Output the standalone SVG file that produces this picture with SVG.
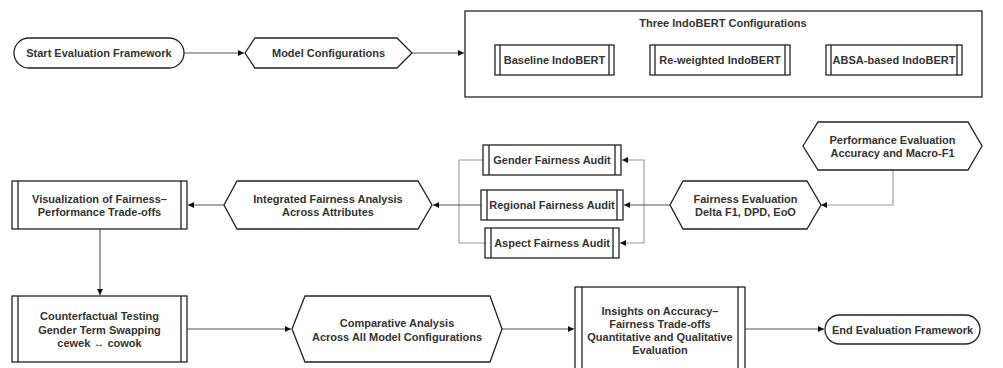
<svg xmlns="http://www.w3.org/2000/svg" width="1003" height="368" viewBox="0 0 1003 368">
<defs>
<marker id="ah" viewBox="0 0 10 10" refX="10" refY="5" markerWidth="6" markerHeight="6" markerUnits="userSpaceOnUse" orient="auto">
<path d="M0,0 L10,5 L0,10 z" fill="#111"/>
</marker>
<style>
.s{fill:#fff;stroke:#222;stroke-width:1.3}
.d{fill:none;stroke:#222;stroke-width:1.3}
.t{font-family:"Liberation Sans",Arial,sans-serif;font-weight:bold;font-size:11px;fill:#333;text-anchor:middle;dominant-baseline:central}
.c{fill:none;stroke:#555;stroke-width:1.1}
.g{fill:none;stroke:#999;stroke-width:1.1}
</style>
</defs>
<rect width="1003" height="368" fill="#fff"/>
<g id="connectors">
<path class="c" d="M184,53 H244" marker-end="url(#ah)"/>
<path class="c" d="M412,53 H464" marker-end="url(#ah)"/>
<path class="g" d="M893,170 V205 H821" marker-end="url(#ah)"/>
<path class="g" d="M644,205 V160 H622" marker-end="url(#ah)"/>
<path class="g" d="M644,205 V243 H620" marker-end="url(#ah)"/>
<path class="c" d="M670,205 H624" marker-end="url(#ah)"/>
<path class="g" d="M483,160 H459 V205"/>
<path class="g" d="M485,243 H459 V205"/>
<path class="c" d="M481,205 H433" marker-end="url(#ah)"/>
<path class="c" d="M224,205 H188" marker-end="url(#ah)"/>
<path class="c" d="M100,229 V295" marker-end="url(#ah)"/>
<path class="c" d="M187,329 H291" marker-end="url(#ah)"/>
<path class="c" d="M502,329 H574" marker-end="url(#ah)"/>
<path class="c" d="M745,329 H824" marker-end="url(#ah)"/>
</g>
<g id="start">
<rect class="s" x="14" y="38" width="170" height="30" rx="15"/>
<text class="t" x="99" y="53">Start Evaluation Framework</text>
</g>
<g id="model-configurations">
<polygon class="s" points="245,53 255,38 397,38 412,53 397,68 255,68"/>
<text class="t" x="328.5" y="53">Model Configurations</text>
</g>
<g id="three-configs">
<rect class="s" x="465" y="11" width="517" height="86"/>
<text class="t" x="723" y="23">Three IndoBERT Configurations</text>
</g>
<g id="baseline">
<rect class="s" x="495" y="45" width="119" height="30"/>
<path class="d" d="M500,45 V75 M609,45 V75"/>
<text class="t" x="554.5" y="60">Baseline IndoBERT</text>
</g>
<g id="reweighted">
<rect class="s" x="650" y="45" width="140" height="30"/>
<path class="d" d="M655,45 V75 M785,45 V75"/>
<text class="t" x="720" y="60">Re-weighted IndoBERT</text>
</g>
<g id="absa">
<rect class="s" x="826" y="45" width="136" height="30"/>
<path class="d" d="M831,45 V75 M957,45 V75"/>
<text class="t" x="894" y="60">ABSA-based IndoBERT</text>
</g>
<g id="performance-evaluation">
<polygon class="s" points="803,146 818,122 968,122 982,146 968,170 818,170"/>
<text class="t" x="892.5" y="140">Performance Evaluation</text>
<text class="t" x="892.5" y="153">Accuracy and Macro-F1</text>
</g>
<g id="fairness-evaluation">
<polygon class="s" points="670,205 683,181 807,181 821,205 807,229 683,229"/>
<text class="t" x="745.5" y="199">Fairness Evaluation</text>
<text class="t" x="745.5" y="212">Delta F1, DPD, EoO</text>
</g>
<g id="gender-audit">
<rect class="s" x="483" y="145" width="138" height="30"/>
<path class="d" d="M489,145 V175 M615,145 V175"/>
<text class="t" x="552" y="160">Gender Fairness Audit</text>
</g>
<g id="regional-audit">
<rect class="s" x="481" y="190" width="142" height="30"/>
<path class="d" d="M487,190 V220 M617,190 V220"/>
<text class="t" x="552" y="205">Regional Fairness Audit</text>
</g>
<g id="aspect-audit">
<rect class="s" x="485" y="228" width="134" height="30"/>
<path class="d" d="M491,228 V258 M613,228 V258"/>
<text class="t" x="552" y="243">Aspect Fairness Audit</text>
</g>
<g id="integrated-analysis">
<polygon class="s" points="224,205 237,181 418,181 432,205 418,229 237,229"/>
<text class="t" x="328" y="199">Integrated Fairness Analysis</text>
<text class="t" x="328" y="212">Across Attributes</text>
</g>
<g id="visualization">
<rect class="s" x="12" y="181" width="175" height="48"/>
<path class="d" d="M18,181 V229 M181,181 V229"/>
<text class="t" x="99.5" y="199">Visualization of Fairness–</text>
<text class="t" x="99.5" y="212">Performance Trade-offs</text>
</g>
<g id="counterfactual">
<rect class="s" x="12" y="296" width="175" height="66"/>
<path class="d" d="M18,296 V362 M181,296 V362"/>
<text class="t" x="99.5" y="316">Counterfactual Testing</text>
<text class="t" x="99.5" y="330">Gender Term Swapping</text>
<text class="t" x="99.5" y="343">cewek ↔ cowok</text>
</g>
<g id="comparative-analysis">
<polygon class="s" points="292,329 305,296 490,296 502,329 490,362 305,362"/>
<text class="t" x="397" y="323">Comparative Analysis</text>
<text class="t" x="397" y="337">Across All Model Configurations</text>
</g>
<g id="insights">
<rect class="s" x="575" y="287" width="170" height="90"/>
<path class="d" d="M582,287 V377 M738,287 V377"/>
<text class="t" x="660" y="311">Insights on Accuracy–</text>
<text class="t" x="660" y="324">Fairness Trade-offs</text>
<text class="t" x="660" y="337">Quantitative and Qualitative</text>
<text class="t" x="660" y="350">Evaluation</text>
</g>
<g id="end">
<rect class="s" x="825" y="315" width="155" height="29" rx="14.5"/>
<text class="t" x="902.5" y="329.5">End Evaluation Framework</text>
</g>
</svg>
